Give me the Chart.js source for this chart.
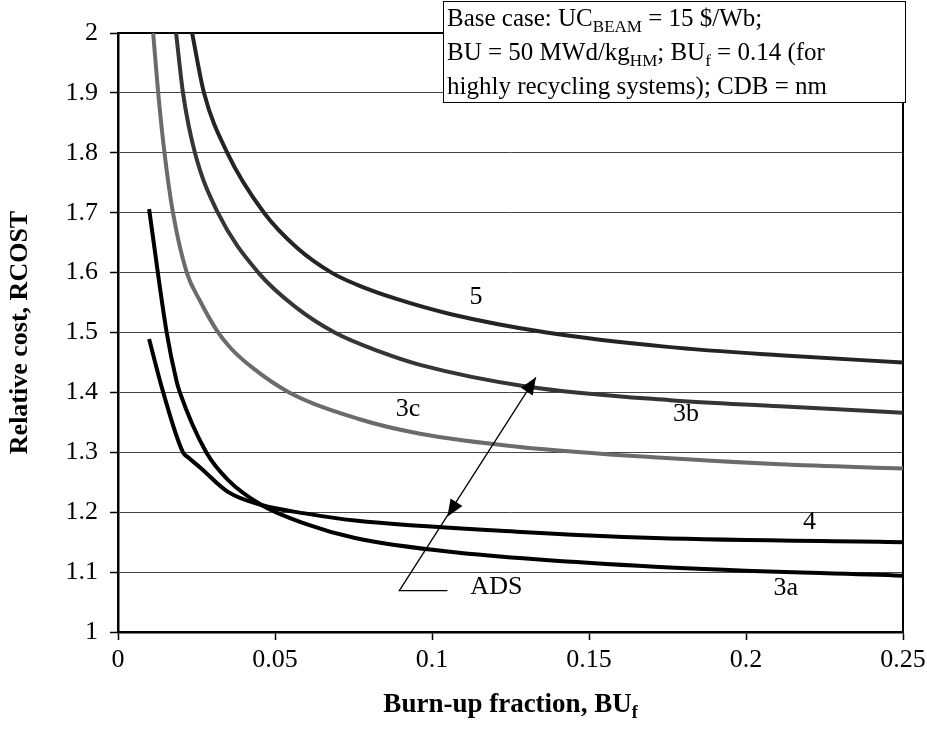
<!DOCTYPE html>
<html><head><meta charset="utf-8">
<script src="https://cdn.jsdelivr.net/npm/chart.js@4/dist/chart.umd.min.js"></script>
<style>html,body{margin:0;padding:0;background:#fff}#wrap{width:927px;height:738px}</style>
</head><body><div id="wrap"><canvas id="c" width="927" height="738"></canvas></div>
<script>
// ---- data ----
const xTickValues = [0, 0.05, 0.1, 0.15, 0.2, 0.25];
const xTickLabels = ['0', '0.05', '0.1', '0.15', '0.2', '0.25'];
const yTickValues = [1, 1.1, 1.2, 1.3, 1.4, 1.5, 1.6, 1.7, 1.8, 1.9, 2];
const yTickLabels = ['1', '1.1', '1.2', '1.3', '1.4', '1.5', '1.6', '1.7', '1.8', '1.9', '2'];

const seriesNames = ['5', '3b', '3c', '4', '3a'];

const x5 = [0.0236, 0.0274, 0.0348, 0.0465, 0.0569, 0.068, 0.076, 0.0887, 0.1057, 0.1365, 0.175, 0.2108, 0.25];
const y5 = [2.0, 1.9, 1.8, 1.7, 1.642, 1.6, 1.58, 1.556, 1.531, 1.5, 1.476, 1.462, 1.45];

const x3b = [0.0185, 0.0207, 0.0245, 0.0318, 0.0447, 0.0569, 0.0690, 0.0834, 0.0962, 0.130, 0.1758, 0.2108, 0.25];
const y3b = [2.0, 1.9, 1.8, 1.7, 1.6, 1.541, 1.5, 1.468, 1.446, 1.41, 1.387, 1.377, 1.366];

const x3c = [0.0112, 0.0128, 0.0148, 0.0175, 0.0219, 0.0261, 0.0314, 0.0357, 0.0431, 0.0545, 0.0764, 0.0962, 0.128, 0.1758, 0.2108, 0.25];
const y3c = [2.0, 1.9, 1.8, 1.7, 1.6, 1.553, 1.504, 1.475, 1.44, 1.40, 1.356, 1.331, 1.309, 1.29, 1.28, 1.273];

const x4 = [0.0099, 0.0144, 0.0207, 0.0225, 0.0265, 0.035, 0.0457, 0.0595, 0.0755, 0.127, 0.171, 0.25];
const y4 = [1.489, 1.4, 1.3, 1.291, 1.273, 1.234, 1.212, 1.198, 1.186, 1.1675, 1.157, 1.15];

const x3a = [0.0099, 0.0155, 0.0186, 0.0197, 0.0281, 0.035, 0.0457, 0.0595, 0.0755, 0.1057, 0.171, 0.25];
const y3a = [1.706, 1.5, 1.42, 1.4, 1.3, 1.254, 1.212, 1.181, 1.157, 1.134, 1.109, 1.094];

// curve labels (data coordinates)
const labelTexts = ['5', '3b', '3c', '4', '3a', 'ADS'];
const labelX = [0.1140, 0.1809, 0.0924, 0.2202, 0.2127, 0.1205];
const labelY = [1.559, 1.364, 1.372, 1.184, 1.074, 1.0746];

// ADS arrow (data coordinates): leader start, leader end, upper head, lower head
const arrowX = [0.0896, 0.1049, 0.1331, 0.1049];
const arrowY = [1.069, 1.069, 1.4252, 1.1925];

const noteLines = [
  [['Base case: UC', 0], ['BEAM', 1], [' = 15 $/Wb;', 0]],
  [['BU = 50 MWd/kg', 0], ['HM', 1], ['; BU', 0], ['f', 1], [' = 0.14 (for', 0]],
  [['highly recycling systems); CDB = nm', 0]]
];
const xTitleRuns = [['Burn-up fraction, BU', 0], ['f', 1]];
const yTitle = 'Relative cost, RCOST';

// ---- build ----
const FONT = "'Liberation Serif', 'Times New Roman', serif";
const pts = (xs, ys) => xs.map((x, i) => ({ x: x, y: ys[i] }));
const allX = [x5, x3b, x3c, x4, x3a];
const allY = [y5, y3b, y3c, y4, y3a];
const colors = ['#242424', '#353535', '#6b6b6b', '#000000', '#000000'];

function drawRuns(ctx, runs, x, y, size, bold, align) {
  const f = s => (bold ? 'bold ' : '') + s + 'px ' + FONT;
  const subSize = Math.round(size * 0.68);
  let total = 0;
  runs.forEach(r => { ctx.font = f(r[1] ? subSize : size); total += ctx.measureText(r[0]).width; });
  let cx = align === 'center' ? x - total / 2 : x;
  ctx.textAlign = 'left';
  ctx.textBaseline = 'alphabetic';
  runs.forEach(r => {
    ctx.font = f(r[1] ? subSize : size);
    ctx.fillText(r[0], cx, y + (r[1] ? Math.round(size * 0.22) : 0));
    cx += ctx.measureText(r[0]).width;
  });
}

const decor = {
  id: 'decor',
  beforeDatasetsDraw(chart) {
    const { ctx, chartArea: a } = chart;
    ctx.save();
    ctx.strokeStyle = '#000';
    ctx.lineWidth = 2;
    ctx.strokeRect(a.left, a.top, a.right - a.left, a.bottom - a.top);
    ctx.restore();
  },
  afterDraw(chart) {
    const { ctx } = chart;
    const xs = chart.scales.x, ys = chart.scales.y;
    ctx.save();
    ctx.fillStyle = '#000';
    // curve labels
    ctx.font = '26px ' + FONT;
    ctx.textAlign = 'center';
    ctx.textBaseline = 'middle';
    labelTexts.forEach((t, i) => ctx.fillText(t, xs.getPixelForValue(labelX[i]), ys.getPixelForValue(labelY[i])));
    // arrow
    const P = arrowX.map((x, i) => [xs.getPixelForValue(x), ys.getPixelForValue(arrowY[i])]);
    ctx.strokeStyle = '#000';
    ctx.lineWidth = 1.3;
    ctx.beginPath();
    ctx.moveTo(P[1][0], P[1][1]); ctx.lineTo(P[0][0], P[0][1]); ctx.lineTo(P[2][0], P[2][1]);
    ctx.stroke();
    const head = (tip, from) => {
      const dx = tip[0] - from[0], dy = tip[1] - from[1];
      const L = Math.hypot(dx, dy), ux = dx / L, uy = dy / L;
      const len = 17, hw = 7;
      const bx = tip[0] - ux * len, by = tip[1] - uy * len;
      ctx.beginPath();
      ctx.moveTo(tip[0], tip[1]);
      ctx.lineTo(bx - uy * hw, by + ux * hw);
      ctx.lineTo(bx + uy * hw, by - ux * hw);
      ctx.closePath();
      ctx.fill();
    };
    head(P[2], P[0]);
    head(P[3], P[2]);
    // note box
    ctx.fillStyle = '#fff';
    ctx.fillRect(443, 1, 462, 101);
    ctx.strokeStyle = '#000';
    ctx.lineWidth = 1;
    ctx.strokeRect(443.5, 1.5, 462, 101);
    ctx.fillStyle = '#000';
    const bases = [26, 60, 94];
    noteLines.forEach((runs, i) => drawRuns(ctx, runs, 447, bases[i], 25, false, 'left'));
    // x title
    drawRuns(ctx, xTitleRuns, (chart.chartArea.left + chart.chartArea.right) / 2, 712, 27, true, 'center');
    ctx.restore();
  }
};

Chart.defaults.font.family = FONT;
Chart.defaults.color = '#000';

new Chart(document.getElementById('c'), {
  type: 'line',
  data: {
    datasets: seriesNames.map((n, i) => ({
      label: n,
      data: pts(allX[i], allY[i]),
      borderColor: colors[i],
      borderWidth: 4,
      pointRadius: 0,
      fill: false,
      cubicInterpolationMode: 'monotone'
    }))
  },
  options: {
    responsive: false,
    animation: false,
    devicePixelRatio: 1,
    layout: { padding: { left: 0, right: 24, top: 33, bottom: 0 } },
    plugins: { legend: { display: false }, tooltip: { enabled: false } },
    scales: {
      x: {
        type: 'linear', min: 0, max: 0.25,
        afterBuildTicks: s => { s.ticks = xTickValues.map(v => ({ value: v })); },
        afterFit: s => { s.height = 106; s.paddingLeft = 0; s.paddingRight = 0; },
        ticks: { font: { size: 26 }, padding: 5, maxRotation: 0, autoSkip: false,
          callback: (v, i) => xTickLabels[i] },
        grid: { drawOnChartArea: false, drawTicks: true, tickLength: 8, tickColor: '#000', tickWidth: 1.5 },
        border: { display: true, color: '#000', width: 2.5 }
      },
      y: {
        type: 'linear', min: 1, max: 2,
        afterBuildTicks: s => { s.ticks = yTickValues.map(v => ({ value: v })); },
        afterFit: s => { s.width = 118; s.paddingTop = 0; s.paddingBottom = 0; },
        ticks: { font: { size: 26 }, padding: 12, autoSkip: false,
          callback: (v, i) => yTickLabels[i] },
        grid: { color: '#444', lineWidth: 1, drawTicks: true, tickLength: 8, tickColor: '#000', tickWidth: 1.5 },
        border: { display: true, color: '#000', width: 2.5 },
        title: { display: true, text: yTitle, font: { size: 26, weight: 'bold' }, padding: { top: 5, bottom: 0 } }
      }
    }
  },
  plugins: [decor]
});
</script></body></html>
